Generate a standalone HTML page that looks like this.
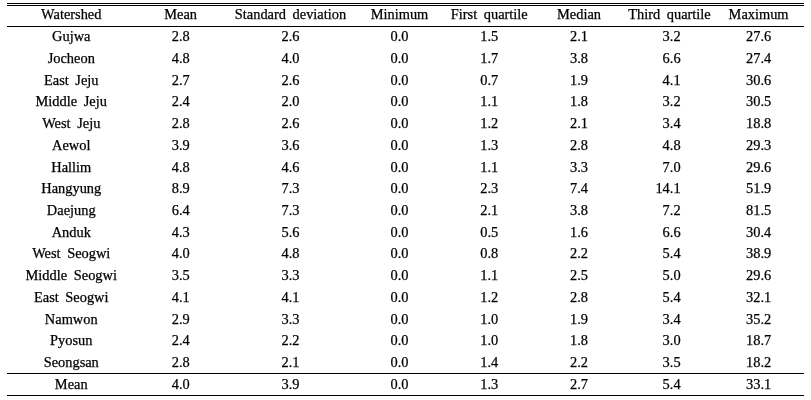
<!DOCTYPE html>
<html><head><meta charset="utf-8"><style>
html,body{margin:0;padding:0;background:#fff;width:811px;height:400px;overflow:hidden}
#w{position:absolute;left:0;top:0;width:811px;height:400px;will-change:transform}
.c{position:absolute;width:200px;text-align:center;font-family:"Liberation Serif",serif;font-size:14.4px;line-height:15.941px;color:#000;white-space:pre;word-spacing:3px;-webkit-text-stroke:0.25px #000}
.r{text-align:right}
.ln{position:absolute;left:7px;width:797px;height:1px;background:#000}
</style></head><body><div id="w">
<div class="c" style="left:-28.75px;top:7.17px">Watershed</div>
<div class="c" style="left:80.70px;top:7.17px">Mean</div>
<div class="c" style="left:190.50px;top:7.17px">Standard deviation</div>
<div class="c" style="left:299.50px;top:7.17px">Minimum</div>
<div class="c" style="left:389.30px;top:7.17px">First quartile</div>
<div class="c" style="left:479.00px;top:7.17px">Median</div>
<div class="c" style="left:569.50px;top:7.17px">Third quartile</div>
<div class="c" style="left:658.60px;top:7.17px">Maximum</div>
<div class="c" style="left:-28.75px;top:29.17px">Gujwa</div>
<div class="c" style="left:80.70px;top:29.17px">2.8</div>
<div class="c" style="left:190.50px;top:29.17px">2.6</div>
<div class="c" style="left:299.50px;top:29.17px">0.0</div>
<div class="c" style="left:389.30px;top:29.17px">1.5</div>
<div class="c" style="left:479.00px;top:29.17px">2.1</div>
<div class="c r" style="left:480.60px;top:29.17px">3.2</div>
<div class="c" style="left:658.60px;top:29.17px">27.6</div>
<div class="c" style="left:-28.75px;top:50.90px">Jocheon</div>
<div class="c" style="left:80.70px;top:50.90px">4.8</div>
<div class="c" style="left:190.50px;top:50.90px">4.0</div>
<div class="c" style="left:299.50px;top:50.90px">0.0</div>
<div class="c" style="left:389.30px;top:50.90px">1.7</div>
<div class="c" style="left:479.00px;top:50.90px">3.8</div>
<div class="c r" style="left:480.60px;top:50.90px">6.6</div>
<div class="c" style="left:658.60px;top:50.90px">27.4</div>
<div class="c" style="left:-28.75px;top:72.63px">East Jeju</div>
<div class="c" style="left:80.70px;top:72.63px">2.7</div>
<div class="c" style="left:190.50px;top:72.63px">2.6</div>
<div class="c" style="left:299.50px;top:72.63px">0.0</div>
<div class="c" style="left:389.30px;top:72.63px">0.7</div>
<div class="c" style="left:479.00px;top:72.63px">1.9</div>
<div class="c r" style="left:480.60px;top:72.63px">4.1</div>
<div class="c" style="left:658.60px;top:72.63px">30.6</div>
<div class="c" style="left:-28.75px;top:94.36px">Middle Jeju</div>
<div class="c" style="left:80.70px;top:94.36px">2.4</div>
<div class="c" style="left:190.50px;top:94.36px">2.0</div>
<div class="c" style="left:299.50px;top:94.36px">0.0</div>
<div class="c" style="left:389.30px;top:94.36px">1.1</div>
<div class="c" style="left:479.00px;top:94.36px">1.8</div>
<div class="c r" style="left:480.60px;top:94.36px">3.2</div>
<div class="c" style="left:658.60px;top:94.36px">30.5</div>
<div class="c" style="left:-28.75px;top:116.09px">West Jeju</div>
<div class="c" style="left:80.70px;top:116.09px">2.8</div>
<div class="c" style="left:190.50px;top:116.09px">2.6</div>
<div class="c" style="left:299.50px;top:116.09px">0.0</div>
<div class="c" style="left:389.30px;top:116.09px">1.2</div>
<div class="c" style="left:479.00px;top:116.09px">2.1</div>
<div class="c r" style="left:480.60px;top:116.09px">3.4</div>
<div class="c" style="left:658.60px;top:116.09px">18.8</div>
<div class="c" style="left:-28.75px;top:137.82px">Aewol</div>
<div class="c" style="left:80.70px;top:137.82px">3.9</div>
<div class="c" style="left:190.50px;top:137.82px">3.6</div>
<div class="c" style="left:299.50px;top:137.82px">0.0</div>
<div class="c" style="left:389.30px;top:137.82px">1.3</div>
<div class="c" style="left:479.00px;top:137.82px">2.8</div>
<div class="c r" style="left:480.60px;top:137.82px">4.8</div>
<div class="c" style="left:658.60px;top:137.82px">29.3</div>
<div class="c" style="left:-28.75px;top:159.55px">Hallim</div>
<div class="c" style="left:80.70px;top:159.55px">4.8</div>
<div class="c" style="left:190.50px;top:159.55px">4.6</div>
<div class="c" style="left:299.50px;top:159.55px">0.0</div>
<div class="c" style="left:389.30px;top:159.55px">1.1</div>
<div class="c" style="left:479.00px;top:159.55px">3.3</div>
<div class="c r" style="left:480.60px;top:159.55px">7.0</div>
<div class="c" style="left:658.60px;top:159.55px">29.6</div>
<div class="c" style="left:-28.75px;top:181.28px">Hangyung</div>
<div class="c" style="left:80.70px;top:181.28px">8.9</div>
<div class="c" style="left:190.50px;top:181.28px">7.3</div>
<div class="c" style="left:299.50px;top:181.28px">0.0</div>
<div class="c" style="left:389.30px;top:181.28px">2.3</div>
<div class="c" style="left:479.00px;top:181.28px">7.4</div>
<div class="c r" style="left:480.60px;top:181.28px">14.1</div>
<div class="c" style="left:658.60px;top:181.28px">51.9</div>
<div class="c" style="left:-28.75px;top:203.01px">Daejung</div>
<div class="c" style="left:80.70px;top:203.01px">6.4</div>
<div class="c" style="left:190.50px;top:203.01px">7.3</div>
<div class="c" style="left:299.50px;top:203.01px">0.0</div>
<div class="c" style="left:389.30px;top:203.01px">2.1</div>
<div class="c" style="left:479.00px;top:203.01px">3.8</div>
<div class="c r" style="left:480.60px;top:203.01px">7.2</div>
<div class="c" style="left:658.60px;top:203.01px">81.5</div>
<div class="c" style="left:-28.75px;top:224.74px">Anduk</div>
<div class="c" style="left:80.70px;top:224.74px">4.3</div>
<div class="c" style="left:190.50px;top:224.74px">5.6</div>
<div class="c" style="left:299.50px;top:224.74px">0.0</div>
<div class="c" style="left:389.30px;top:224.74px">0.5</div>
<div class="c" style="left:479.00px;top:224.74px">1.6</div>
<div class="c r" style="left:480.60px;top:224.74px">6.6</div>
<div class="c" style="left:658.60px;top:224.74px">30.4</div>
<div class="c" style="left:-28.75px;top:246.47px">West Seogwi</div>
<div class="c" style="left:80.70px;top:246.47px">4.0</div>
<div class="c" style="left:190.50px;top:246.47px">4.8</div>
<div class="c" style="left:299.50px;top:246.47px">0.0</div>
<div class="c" style="left:389.30px;top:246.47px">0.8</div>
<div class="c" style="left:479.00px;top:246.47px">2.2</div>
<div class="c r" style="left:480.60px;top:246.47px">5.4</div>
<div class="c" style="left:658.60px;top:246.47px">38.9</div>
<div class="c" style="left:-28.75px;top:268.20px">Middle Seogwi</div>
<div class="c" style="left:80.70px;top:268.20px">3.5</div>
<div class="c" style="left:190.50px;top:268.20px">3.3</div>
<div class="c" style="left:299.50px;top:268.20px">0.0</div>
<div class="c" style="left:389.30px;top:268.20px">1.1</div>
<div class="c" style="left:479.00px;top:268.20px">2.5</div>
<div class="c r" style="left:480.60px;top:268.20px">5.0</div>
<div class="c" style="left:658.60px;top:268.20px">29.6</div>
<div class="c" style="left:-28.75px;top:289.93px">East Seogwi</div>
<div class="c" style="left:80.70px;top:289.93px">4.1</div>
<div class="c" style="left:190.50px;top:289.93px">4.1</div>
<div class="c" style="left:299.50px;top:289.93px">0.0</div>
<div class="c" style="left:389.30px;top:289.93px">1.2</div>
<div class="c" style="left:479.00px;top:289.93px">2.8</div>
<div class="c r" style="left:480.60px;top:289.93px">5.4</div>
<div class="c" style="left:658.60px;top:289.93px">32.1</div>
<div class="c" style="left:-28.75px;top:311.66px">Namwon</div>
<div class="c" style="left:80.70px;top:311.66px">2.9</div>
<div class="c" style="left:190.50px;top:311.66px">3.3</div>
<div class="c" style="left:299.50px;top:311.66px">0.0</div>
<div class="c" style="left:389.30px;top:311.66px">1.0</div>
<div class="c" style="left:479.00px;top:311.66px">1.9</div>
<div class="c r" style="left:480.60px;top:311.66px">3.4</div>
<div class="c" style="left:658.60px;top:311.66px">35.2</div>
<div class="c" style="left:-28.75px;top:333.39px">Pyosun</div>
<div class="c" style="left:80.70px;top:333.39px">2.4</div>
<div class="c" style="left:190.50px;top:333.39px">2.2</div>
<div class="c" style="left:299.50px;top:333.39px">0.0</div>
<div class="c" style="left:389.30px;top:333.39px">1.0</div>
<div class="c" style="left:479.00px;top:333.39px">1.8</div>
<div class="c r" style="left:480.60px;top:333.39px">3.0</div>
<div class="c" style="left:658.60px;top:333.39px">18.7</div>
<div class="c" style="left:-28.75px;top:355.12px">Seongsan</div>
<div class="c" style="left:80.70px;top:355.12px">2.8</div>
<div class="c" style="left:190.50px;top:355.12px">2.1</div>
<div class="c" style="left:299.50px;top:355.12px">0.0</div>
<div class="c" style="left:389.30px;top:355.12px">1.4</div>
<div class="c" style="left:479.00px;top:355.12px">2.2</div>
<div class="c r" style="left:480.60px;top:355.12px">3.5</div>
<div class="c" style="left:658.60px;top:355.12px">18.2</div>
<div class="c" style="left:-28.75px;top:377.17px">Mean</div>
<div class="c" style="left:80.70px;top:377.17px">4.0</div>
<div class="c" style="left:190.50px;top:377.17px">3.9</div>
<div class="c" style="left:299.50px;top:377.17px">0.0</div>
<div class="c" style="left:389.30px;top:377.17px">1.3</div>
<div class="c" style="left:479.00px;top:377.17px">2.7</div>
<div class="c r" style="left:480.60px;top:377.17px">5.4</div>
<div class="c" style="left:658.60px;top:377.17px">33.1</div>
<div class="ln" style="top:3px"></div>
<div class="ln" style="top:5px"></div>
<div class="ln" style="top:26px"></div>
<div class="ln" style="top:373px"></div>
<div class="ln" style="top:395px"></div>
</div></body></html>
